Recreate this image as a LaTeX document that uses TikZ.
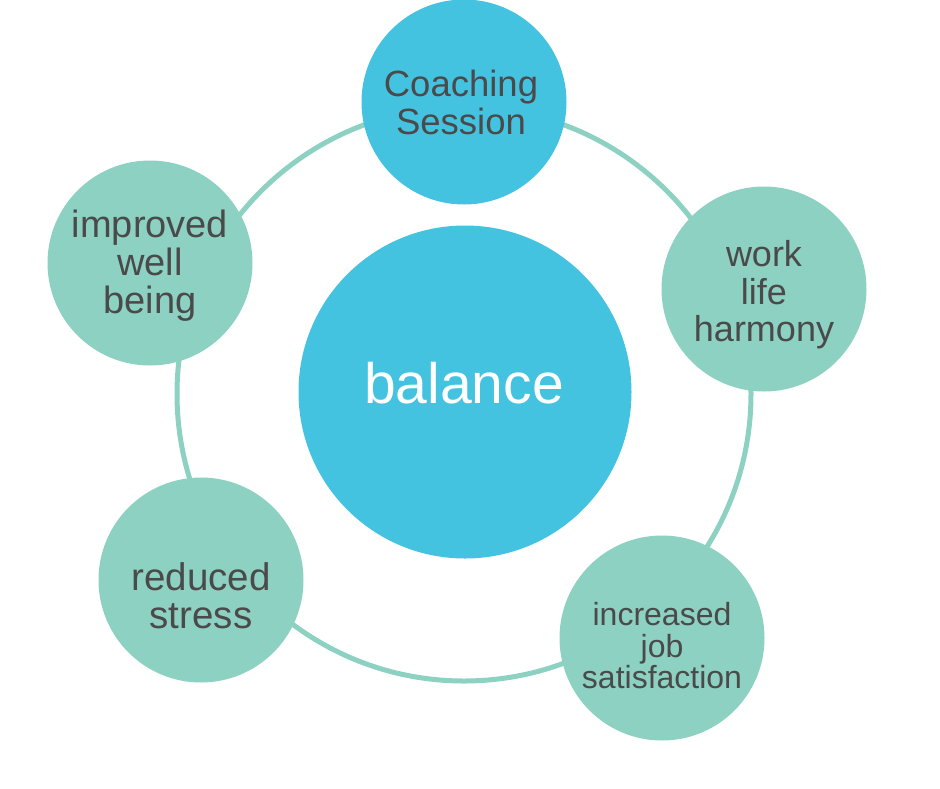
\documentclass[tikz,border=0pt]{standalone}
\usepackage{fontspec}
\setmainfont{Liberation Sans}
\definecolor{cblue}{HTML}{44C3E1}
\definecolor{cteal}{HTML}{8CD1C1}
\definecolor{ctext}{HTML}{4A4A4A}
\tikzset{
  ringline/.style={draw=cteal, line width=5pt, circle, inner sep=0pt, minimum size=574pt},
  sat/.style={circle, inner sep=0pt, minimum size=205pt},
  bluesat/.style={sat, fill=cblue},
  tealsat/.style={sat, fill=cteal},
  lbl/.style={inner sep=0pt, text=ctext, align=center},
  hub/.style={circle, fill=cblue, inner sep=0pt, minimum size=333pt}
}
\begin{document}
\begin{tikzpicture}[x=1pt,y=-1pt]
\useasboundingbox (0,0) rectangle (940,788);
\node[ringline] (ring) at (464,394) {};
\node[hub] (bal) at (465,392) {};
\node[inner sep=0pt, text=white, font=\fontsize{57}{60}\selectfont] (balt) at (464,383) {balance};
\node[bluesat] (cs) at (464,102) {};
\node[lbl, font=\fontsize{36.5}{38}\selectfont] (cst) at (461,102) {Coaching\\Session};
\node[tealsat] (wl) at (764,289) {};
\node[lbl, font=\fontsize{36}{37.5}\selectfont] (wlt) at (764,295) {work\\life\\harmony};
\node[tealsat] (js) at (662,638) {};
\node[lbl, font=\fontsize{32}{31.5}\selectfont] (jst) at (662,646) {increased\\job\\satisfaction};
\node[tealsat] (rs) at (201,580) {};
\node[lbl, font=\fontsize{38.5}{38}\selectfont] (rst) at (201,596) {reduced\\stress};
\node[tealsat] (wb) at (150,263) {};
\node[lbl, font=\fontsize{38}{38}\selectfont] (wbt) at (150,266) {improved\\well\\being};
\end{tikzpicture}
\end{document}
